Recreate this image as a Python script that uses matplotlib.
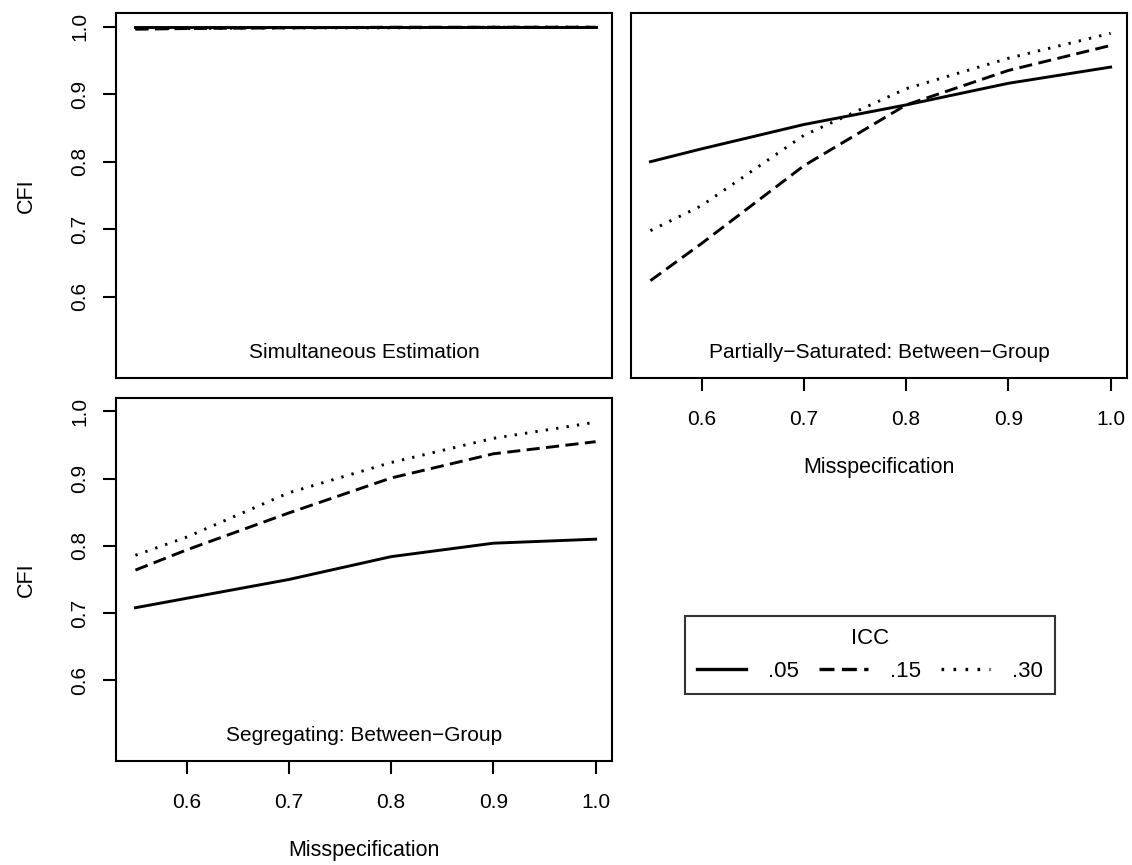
import matplotlib
matplotlib.use('Agg')
import matplotlib.pyplot as plt

plt.rcParams['font.family'] = ['Liberation Sans', 'DejaVu Sans']

# misspecification levels (x)
misspec = [0.55, 0.6, 0.7, 0.8, 0.9, 1.0]
icc_labels = ['.05', '.15', '.30']

# CFI, simultaneous estimation
sim_05 = [0.999, 0.999, 0.999, 0.999, 0.999, 0.999]
sim_15 = [0.996, 0.997, 0.998, 0.999, 0.999, 0.999]
sim_30 = [0.997, 0.997, 0.998, 0.998, 0.999, 0.999]

# CFI, partially-saturated between-group
ps_05 = [0.800, 0.819, 0.855, 0.884, 0.916, 0.940]
ps_15 = [0.624, 0.679, 0.794, 0.884, 0.935, 0.972]
ps_30 = [0.698, 0.735, 0.839, 0.908, 0.953, 0.990]

# CFI, segregating between-group
seg_05 = [0.708, 0.722, 0.750, 0.784, 0.804, 0.810]
seg_15 = [0.764, 0.794, 0.849, 0.901, 0.937, 0.955]
seg_30 = [0.786, 0.813, 0.879, 0.924, 0.960, 0.984]

panels = [
    ('Simultaneous Estimation', [sim_05, sim_15, sim_30]),
    ('Partially\u2212Saturated: Between\u2212Group', [ps_05, ps_15, ps_30]),
    ('Segregating: Between\u2212Group', [seg_05, seg_15, seg_30]),
]
ticks = [0.6, 0.7, 0.8, 0.9, 1.0]
tick_labels = ['0.6', '0.7', '0.8', '0.9', '1.0']

W, H = 1132, 865
fig = plt.figure(figsize=(W / 100, H / 100), dpi=100)

# panel boxes in pixels: left, top, right, bottom
boxes = [(116, 13, 612, 378), (631, 13, 1127, 378), (116, 398, 612, 761)]
styles = [dict(ls='-'), dict(ls=(0, (4.5, 2.2))), dict(ls=(0, (0.8, 2.8)))]

fs = 15
lines = []
for i, ((l, t, r, b), (label, series)) in enumerate(zip(boxes, panels)):
    ax = fig.add_axes([l / W, 1 - b / H, (r - l) / W, (b - t) / H])
    for s, st in zip(series, styles):
        ln, = ax.plot(misspec, s, color='black', lw=2.1, **st)
        if i == 1:
            lines.append(ln)
    ax.set_xlim(0.531, 1.016)
    ax.set_ylim(0.48, 1.02)
    ax.tick_params(length=9.5, width=1.5, labelsize=fs)
    ax.tick_params(axis='x', pad=13.5)
    ax.tick_params(axis='y', pad=10)
    for sp in ax.spines.values():
        sp.set_linewidth(1.5)
    ax.text(0.5, 0.07, label, transform=ax.transAxes, ha='center',
            va='center', fontsize=fs)
    if i == 1:
        ax.set_yticks([])
    else:
        ax.set_yticks(ticks)
        ax.set_yticklabels(tick_labels, rotation=90, va='center')
        ax.set_ylabel('CFI', fontsize=fs + 0.5, labelpad=24)
    if i == 0:
        ax.set_xticks([])
    else:
        ax.set_xticks(ticks)
        ax.set_xticklabels(tick_labels)
        ax.set_xlabel('Misspecification', fontsize=fs + 0.5, labelpad=20)

leg = fig.legend(lines, icc_labels, title='ICC', ncol=3,
                 loc='center', bbox_to_anchor=(870 / W, 1 - 655 / H),
                 fontsize=fs + 1, title_fontsize=fs + 1, handlelength=2.2,
                 columnspacing=0.9, handletextpad=1.0, frameon=True,
                 fancybox=False, edgecolor='black', borderpad=0.55,
                 borderaxespad=0)
leg.get_frame().set_linewidth(1.5)
for h in leg.legend_handles:
    h.set_linewidth(2.4)

fig.savefig('out.png', dpi=100)
